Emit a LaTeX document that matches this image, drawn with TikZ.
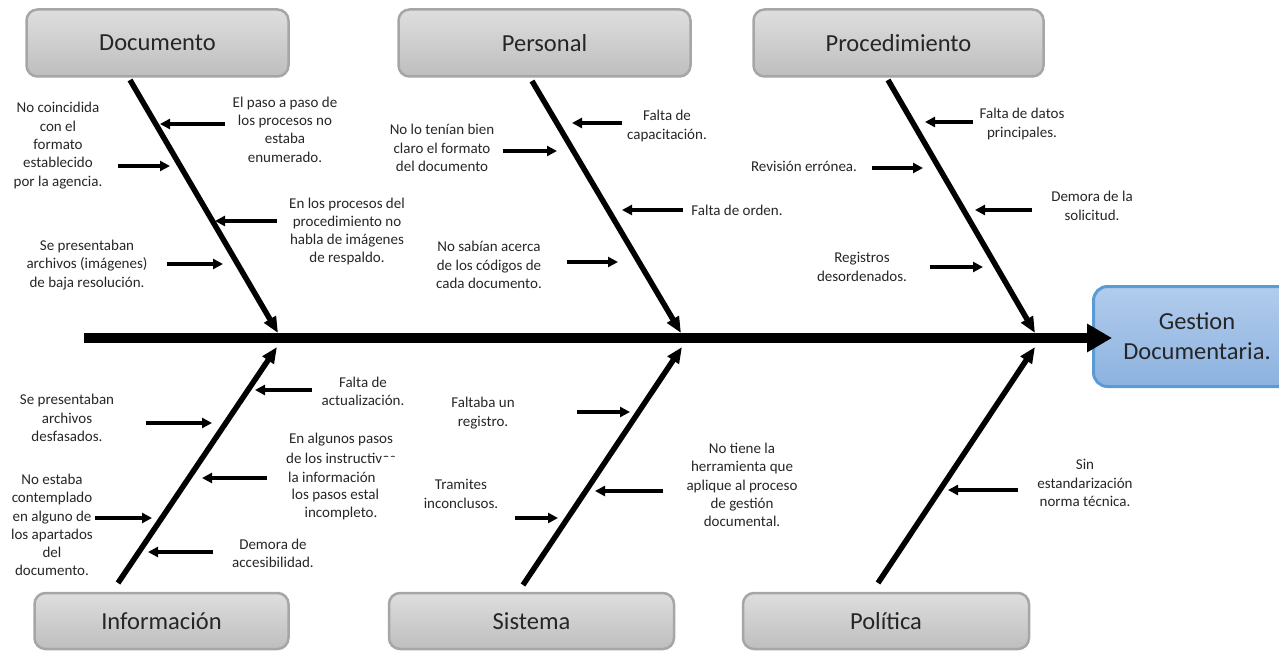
\documentclass[tikz,border=0pt]{standalone}
\usepackage{fontspec}
\setmainfont{Carlito}
\usetikzlibrary{arrows.meta}
\definecolor{boxtop}{HTML}{DEDEDE}
\definecolor{boxbot}{HTML}{BEBEBE}
\definecolor{boxline}{HTML}{A6A6A6}
\definecolor{efftop}{HTML}{B2CCEC}
\definecolor{effbot}{HTML}{8CB2E0}
\definecolor{effline}{HTML}{5B9BD5}
\definecolor{txt}{HTML}{262626}
\begin{document}
\begin{tikzpicture}[x=1pt,y=-1pt,
 catbox/.style={draw=boxline, line width=2.5pt, rounded corners=11pt, top color=boxtop, bottom color=boxbot, text=txt, font=\fontsize{24.5}{30}\selectfont, inner sep=0pt},
 cause/.style={font=\fontsize{15}{18.3}\selectfont, align=center, inner sep=0pt, text=txt},
 bone/.style={line width=5.5pt, -{Triangle[length=16pt,width=13pt]}},
 carrow/.style={line width=3.5pt, -{Triangle[length=10pt,width=10pt]}},
 spine/.style={line width=10pt, -{Triangle[length=25pt,width=27pt]}}]
\path[use as bounding box] (0,0) rectangle (1279,652);
\clip (0,0) rectangle (1279,652);

% category boxes
\node[catbox, minimum width=262pt, minimum height=67pt] (doc) at (157.5,43) {Documento};
\node[catbox, minimum width=292pt, minimum height=67pt] (per) at (544.5,43) {Personal};
\node[catbox, minimum width=290pt, minimum height=67pt] (pro) at (898.5,43) {Procedimiento};
\node[catbox, minimum width=254pt, minimum height=56pt] (inf) at (161.5,621) {Información};
\node[catbox, minimum width=285pt, minimum height=56pt] (sis) at (531.5,621) {Sistema};
\node[catbox, minimum width=286pt, minimum height=56pt] (pol) at (886,621) {Política};

% effect box
\node[draw=effline, line width=3pt, rounded corners=14pt, top color=efftop, bottom color=effbot,
      minimum width=207pt, minimum height=100pt, align=center, text=txt,
      font=\fontsize{24.5}{30}\selectfont, inner sep=0pt] (eff) at (1197,336.5) {Gestion\\Documentaria.};

% bone coordinates
\coordinate (docT) at (130,80);   \coordinate (docE) at (278,333);
\coordinate (perT) at (532,81);   \coordinate (perE) at (681,333);
\coordinate (proT) at (888,80);   \coordinate (proE) at (1035,333);
\coordinate (infT) at (118,583);  \coordinate (infE) at (277,347);
\coordinate (sisT) at (523,585);  \coordinate (sisE) at (682,347);
\coordinate (polT) at (878,583);  \coordinate (polE) at (1035,347);
\coordinate (spS) at (84,338);    \coordinate (spE) at (1112,338);

\draw[bone] (docT) -- (docE);
\draw[bone] (perT) -- (perE);
\draw[bone] (proT) -- (proE);
\draw[bone] (infT) -- (infE);
\draw[bone] (sisT) -- (sisE);
\draw[bone] (polT) -- (polE);
\draw[spine] (spS) -- (spE);

% Documento causes
\node[cause] (c1) at (285,129.5) {El paso a paso de\\los procesos no\\estaba\\enumerado.};
\node[cause] (c2) at (58,145.5) {No coincidida\\con el\\formato\\establecido\\por la agencia.};
\node[cause] (c3) at (347,231.5) {En los procesos del\\procedimiento no\\habla de imágenes\\de respaldo.};
\node[cause] (c4) at (87,265) {Se presentaban\\archivos (imágenes)\\de baja resolución.};
\path (225,124) coordinate (a1s) (160,124) coordinate (a1e)
      (118,166) coordinate (a2s) (170,166) coordinate (a2e)
      (277,221) coordinate (a3s) (215,221) coordinate (a3e)
      (167,264) coordinate (a4s) (223,264) coordinate (a4e);
\draw[carrow] (a1s) -- (a1e);
\draw[carrow] (a2s) -- (a2e);
\draw[carrow] (a3s) -- (a3e);
\draw[carrow] (a4s) -- (a4e);

% Personal causes
\node[cause] (c5) at (667,126) {Falta de\\capacitación.};
\node[cause] (c6) at (442,148) {No lo tenían bien\\claro el formato\\del documento};
\node[cause] (c7) at (737,210) {Falta de orden.};
\node[cause] (c8) at (489,265) {No sabían acerca\\de los códigos de\\cada documento.};
\path (622,123) coordinate (a5s) (572,123) coordinate (a5e)
      (503,151) coordinate (a6s) (557,151) coordinate (a6e)
      (683,210) coordinate (a7s) (622,210) coordinate (a7e)
      (567,262) coordinate (a8s) (618,262) coordinate (a8e);
\draw[carrow] (a5s) -- (a5e);
\draw[carrow] (a6s) -- (a6e);
\draw[carrow] (a7s) -- (a7e);
\draw[carrow] (a8s) -- (a8e);

% Procedimiento causes
\node[cause] (c9) at (1022,124) {Falta de datos\\principales.};
\node[cause] (c10) at (804,166) {Revisión errónea.};
\node[cause] (c11) at (1092,206) {Demora de la\\solicitud.};
\node[cause] (c12) at (862,267) {Registros\\desordenados.};
\path (973,122) coordinate (a9s) (925,122) coordinate (a9e)
      (872,168) coordinate (a10s) (923,168) coordinate (a10e)
      (1032,210) coordinate (a11s) (975,210) coordinate (a11e)
      (930,267) coordinate (a12s) (983,267) coordinate (a12e);
\draw[carrow] (a9s) -- (a9e);
\draw[carrow] (a10s) -- (a10e);
\draw[carrow] (a11s) -- (a11e);
\draw[carrow] (a12s) -- (a12e);

% Informacion causes
\node[cause] (c13) at (363,391) {Falta de\\actualización.};
\node[cause] (c14) at (67,418) {Se presentaban\\archivos\\desfasados.};
\node[cause] (c15a) at (341,440) {En algunos pasos};
\begin{scope}
  \clip (250,430) -- (420,430) -- (420,456) -- (381.5,456) -- (381.5,530) -- (250,530) -- cycle;
  \node[cause] (c15b) at (341,458) {de los instructivos};
\end{scope}
\node[cause, anchor=west] (c15c) at (288,477) {la información};
\node[cause, anchor=west] (c15d) at (291.5,495) {los pasos estal};
\node[cause] (c15e) at (341,513) {incompleto.};
\node[cause] (c16) at (52,525) {No estaba\\contemplado\\en alguno de\\los apartados\\del\\documento.};
\node[cause] (c17) at (273,553) {Demora de\\accesibilidad.};
\path (312,390) coordinate (a13s) (255,390) coordinate (a13e)
      (146,423) coordinate (a14s) (212,423) coordinate (a14e)
      (267,478) coordinate (a15s) (202,478) coordinate (a15e)
      (95,518) coordinate (a16s) (152,518) coordinate (a16e)
      (213,552) coordinate (a17s) (148,552) coordinate (a17e);
\draw[carrow] (a13s) -- (a13e);
\draw[carrow] (a14s) -- (a14e);
\draw[carrow] (a15s) -- (a15e);
\draw[carrow] (a16s) -- (a16e);
\draw[carrow] (a17s) -- (a17e);

% Sistema causes
\node[cause] (c18) at (483,413) {Faltaba un\\registro.};
\node[cause] (c19) at (461,494) {Tramites\\inconclusos.};
\node[cause] (c20) at (742,485) {No tiene la\\herramienta que\\aplique al proceso\\de gestión\\documental.};
\path (577,412) coordinate (a18s) (630,412) coordinate (a18e)
      (663,491) coordinate (a19s) (595,491) coordinate (a19e)
      (515,518) coordinate (a20s) (558,518) coordinate (a20e);
\draw[carrow] (a18s) -- (a18e);
\draw[carrow] (a19s) -- (a19e);
\draw[carrow] (a20s) -- (a20e);

% Politica causes
\node[cause] (c21) at (1085,483) {Sin\\estandarización\\norma técnica.};
\path (1018,490) coordinate (a21s) (948,490) coordinate (a21e);
\draw[carrow] (a21s) -- (a21e);
\end{tikzpicture}
\end{document}
